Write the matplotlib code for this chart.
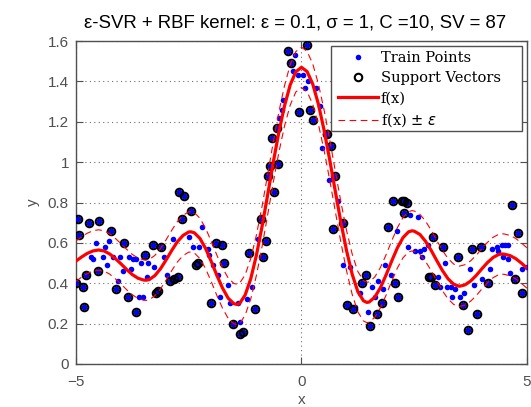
import matplotlib
matplotlib.use("Agg")
import matplotlib.pyplot as plt
from matplotlib.patches import Rectangle
import numpy as np

# ---- data ----
# support vectors
sv_x = [-4.96, -4.93, -5.00, -4.84, -4.82, -4.78, -4.71, -4.49, -4.51, -4.22, -4.11, -3.94,
        -3.85, -3.67, -3.47, -3.29, -3.12, -3.23, -3.18, -2.92, -2.83, -2.74, -2.72, -2.61,
        -2.65, -2.45, -2.34, -2.29, -1.90, -1.76, -2.01, -1.72,
        -0.90, -0.79, -1.16, -0.85, -1.03, -1.52, -1.36, -1.30, -0.70, -0.52, -0.74, -0.61,
        0.12, -0.30, -0.23, -0.06, 0.19, 0.25, -0.54, -0.65, 0.57, 0.65,
        0.74, 0.92, 0.70, 1.43, 1.34, 1.01, 1.14, 1.52, 1.67,
        1.78, 1.92, 2.03, 2.23, 2.27, 2.34, 2.27, 2.07, 2.14, 2.92, 2.83, 2.87, 2.96,
        3.14, 3.47, 3.58, 3.69, 3.78, 3.98, 3.89, 4.14, 4.67, 4.80, 4.73, 4.89]
sv_y = [0.72, 0.64, 0.40, 0.38, 0.28, 0.44, 0.70, 0.71, 0.46, 0.66, 0.37, 0.60,
        0.33, 0.26, 0.54, 0.59, 0.58, 0.35, 0.36, 0.41, 0.42, 0.43, 0.85, 0.83,
        0.72, 0.76, 0.49, 0.50, 0.60, 0.59, 0.30, 0.50,
        0.72, 0.61, 0.55, 0.53, 0.27, 0.20, 0.15, 0.16, 0.98, 0.99, 0.93, 0.85,
        1.58, 1.55, 1.49, 1.25, 1.26, 1.21, 1.17, 1.12, 1.14, 1.08,
        0.93, 0.70, 0.67, 0.44, 0.40, 0.29, 0.27, 0.19, 0.25,
        0.30, 0.68, 0.81, 0.81, 0.81, 0.80, 0.75, 0.40, 0.33, 0.63, 0.43, 0.43, 0.39,
        0.58, 0.53, 0.29, 0.17, 0.57, 0.58, 0.25, 0.40, 0.79, 0.65, 0.42, 0.35]

# remaining training points (inside the tube)
in_x = [-4.56, -4.67, -4.62, -4.40, -4.36, -4.27, -4.31, -4.18, -4.02, -4.07, -3.96, -3.82,
        -3.74, -3.67, -3.78, -3.60, -3.51, -3.56, -3.40, -3.43, -3.27, -3.05, -2.98, -2.85,
        -2.49, -2.41, -2.27, -2.21, -2.07, -2.05, -1.96, -1.85, -1.81, -1.63,
        -0.96, -1.10, -1.59, -1.41, -1.21, -1.36,
        -0.14, -0.19, -0.08, 0.03, 0.14, 0.08, 0.32, -0.41, 0.41, -0.43, -0.50, 0.52, 0.45,
        0.61, 0.81, 0.92, 1.08, 1.30, 1.56, 1.63, 1.70, 1.19, 1.47,
        1.81, 1.98, 1.85, 2.12, 2.41, 2.58, 2.36, 2.52, 2.63, 2.72, 2.67, 2.80, 3.03, 3.18,
        3.07, 3.23, 3.31, 3.40, 3.34, 3.51, 3.60, 3.74, 3.82, 4.00, 4.18, 4.22, 4.33, 4.45,
        4.51, 4.58, 4.36, 4.47, 4.58, 4.62, 4.89, 5.00]
in_y = [0.60, 0.53, 0.52, 0.53, 0.58, 0.61, 0.49, 0.53, 0.53, 0.41, 0.46, 0.53,
        0.52, 0.52, 0.47, 0.33, 0.33, 0.50, 0.50, 0.43, 0.48, 0.53, 0.44, 0.62,
        0.63, 0.58, 0.58, 0.68, 0.57, 0.54, 0.49, 0.44, 0.33, 0.39,
        0.62, 0.38, 0.30, 0.30, 0.32, 0.21,
        1.53, 1.45, 1.43, 1.43, 1.40, 1.37, 1.37, 1.31, 1.28, 1.26, 1.22, 1.14, 1.07,
        0.91, 0.81, 0.49, 0.48, 0.35, 0.38, 0.33, 0.41, 0.28, 0.26,
        0.37, 0.44, 0.49, 0.66, 0.74, 0.73, 0.58, 0.56, 0.56, 0.57, 0.53, 0.59, 0.43, 0.50,
        0.38, 0.38, 0.38, 0.37, 0.33, 0.33, 0.35, 0.47, 0.39, 0.42, 0.47, 0.57, 0.58, 0.59,
        0.59, 0.59, 0.56, 0.53, 0.52, 0.45, 0.47, 0.48]

# regression curve f(x)
fx_x = [-5.0, -4.875, -4.75, -4.625, -4.5, -4.375, -4.25, -4.125, -4.0, -3.875, -3.75,
        -3.625, -3.5, -3.45, -3.375, -3.25, -3.125, -3.0, -2.875, -2.75, -2.625, -2.5,
        -2.45, -2.375, -2.25, -2.125, -2.0, -1.875, -1.75, -1.625, -1.5, -1.43, -1.375,
        -1.25, -1.125, -1.0, -0.875, -0.75, -0.625, -0.5, -0.375, -0.25, -0.125, 0.0,
        0.125, 0.25, 0.375, 0.5, 0.625, 0.75, 0.875, 1.0, 1.125, 1.25, 1.375, 1.45, 1.5,
        1.625, 1.75, 1.875, 2.0, 2.125, 2.25, 2.375, 2.45, 2.5, 2.625, 2.75, 2.875, 3.0,
        3.125, 3.25, 3.375, 3.5, 3.625, 3.75, 3.875, 4.0, 4.125, 4.25, 4.375, 4.45, 4.5,
        4.625, 4.75, 4.875, 5.0]
fx_y = [0.510, 0.530, 0.548, 0.560, 0.565, 0.560, 0.545, 0.522, 0.496, 0.468, 0.443,
        0.425, 0.416, 0.415, 0.418, 0.438, 0.472, 0.516, 0.563, 0.606, 0.637, 0.654,
        0.655, 0.650, 0.622, 0.572, 0.508, 0.439, 0.376, 0.326, 0.299, 0.295, 0.299,
        0.341, 0.422, 0.538, 0.680, 0.838, 1.000, 1.150, 1.280, 1.383, 1.448, 1.470,
        1.449, 1.387, 1.288, 1.160, 1.013, 0.856, 0.701, 0.561, 0.444, 0.358, 0.313,
        0.305, 0.307, 0.331, 0.378, 0.441, 0.510, 0.575, 0.626, 0.655, 0.660, 0.658,
        0.642, 0.608, 0.563, 0.512, 0.463, 0.422, 0.395, 0.385, 0.392, 0.411, 0.439,
        0.472, 0.503, 0.528, 0.543, 0.545, 0.544, 0.537, 0.522, 0.500, 0.475]
epsilon = 0.1

x_ticks = [-5, 0, 5]
y_ticks = [0, 0.2, 0.4, 0.6, 0.8, 1, 1.2, 1.4, 1.6]
y_ticklabels = ['0', '0.2', '0.4', '0.6', '0.8', '1', '1.2', '1.4', '1.6']

# ---- figure ----
plt.rcParams['font.family'] = ['Liberation Sans', 'DejaVu Sans']
fig = plt.figure(figsize=(5.31, 4.07), dpi=100)
ax = fig.add_axes([0.143, 0.1057, 0.8495, 0.7933])

all_x = sv_x + in_x
all_y = sv_y + in_y
ax.plot(all_x, all_y, linestyle='none', marker='o', ms=4.0, mfc='#0000ff', mec='#0000ff',
        mew=0, label='Train Points', zorder=3)
ax.plot(sv_x, sv_y, linestyle='none', marker='o', ms=5.4, mfc='none', mec='black',
        mew=1.5, label='Support Vectors', zorder=4)
fy = np.array(fx_y)
ax.plot(fx_x, fy, color='#ff0000', lw=2.3, label='f(x)', zorder=5)
ax.plot(fx_x, fy + epsilon, color='#ff0000', lw=0.8, ls=(0, (6, 4)),
        label=r'f(x) $\pm$ $\epsilon$', zorder=5)
ax.plot(fx_x, fy - epsilon, color='#ff0000', lw=0.8, ls=(0, (6, 4)), zorder=5)

ax.set_xlim(-5, 5)
ax.set_ylim(0, 1.6)
ax.set_xticks(x_ticks)
ax.set_yticks(y_ticks)
ax.set_yticklabels(y_ticklabels)
ax.grid(True, linestyle=(0, (1, 3)), color='#707070', lw=0.8)
ax.tick_params(direction='in', length=5, width=0.8, colors='#505050', labelsize=11,
               top=True, right=True, labelcolor='#505050')
ax.tick_params(axis='x', pad=8)
ax.tick_params(axis='y', pad=5)
for s in ax.spines.values():
    s.set_color('#505050')
    s.set_linewidth(1.0)

ax.set_xlabel('x', color='#505050', fontsize=11, labelpad=3)
ax.set_ylabel('y', color='#505050', fontsize=11, labelpad=6)
ax.set_title('ε-SVR + RBF kernel: ε = 0.1, σ = 1, C =10, SV = 87', fontsize=13.4,
             pad=10, x=0.485)

# legend box (MATLAB style, with wide right margin)
frame = Rectangle((0.565, 0.721), 0.424, 0.264, transform=ax.transAxes,
                  facecolor='white', edgecolor='#505050', lw=1.0, zorder=9)
ax.add_patch(frame)
leg = ax.legend(loc='upper left', prop={'family': 'DejaVu Serif', 'size': 10.5},
                frameon=False, borderpad=0.3, labelspacing=0.42, handlelength=2.75,
                handletextpad=0.2, borderaxespad=0, bbox_to_anchor=(0.571, 0.982))
leg.set_zorder(10)

fig.savefig('out.png', dpi=100)
